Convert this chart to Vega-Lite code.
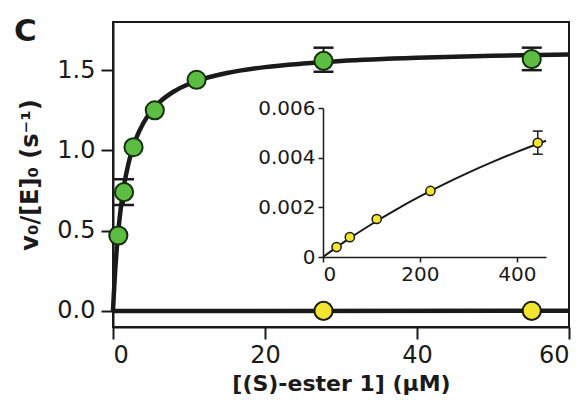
{
  "$schema": "https://vega.github.io/schema/vega-lite/v6.json",
  "width": 456,
  "height": 305,
  "autosize": "none",
  "padding": {"left": 113, "top": 22, "right": 18, "bottom": 80},
  "background": "white",
  "config": {
    "view": {"stroke": "#1a1a1a", "strokeWidth": 2},
    "font": "DejaVu Sans",
    "axis": {"grid": false, "domainColor": "#1a1a1a", "tickColor": "#1a1a1a", "labelColor": "#1a1a1a", "titleColor": "#1a1a1a", "labelFont": "DejaVu Sans", "titleFont": "DejaVu Sans"}
  },
  "title": {"text": "C", "anchor": "start", "frame": "group", "font": "DejaVu Sans", "fontSize": 31, "fontWeight": "bold", "color": "#1a1a1a", "dx": -99, "dy": 32, "offset": -18, "baseline": "alphabetic"},
  "datasets": {
    "curveG": [
      {"s": 0, "v": 0}, {"s": 0.1, "v": 0.096}, {"s": 0.25, "v": 0.222}, {"s": 0.5, "v": 0.39}, {"s": 0.75, "v": 0.523},
      {"s": 1, "v": 0.631}, {"s": 1.5, "v": 0.794}, {"s": 2, "v": 0.911}, {"s": 2.5, "v": 1.0}, {"s": 3, "v": 1.07},
      {"s": 4, "v": 1.171}, {"s": 5, "v": 1.242}, {"s": 6, "v": 1.295}, {"s": 8, "v": 1.367}, {"s": 10, "v": 1.414},
      {"s": 12, "v": 1.447}, {"s": 15, "v": 1.482}, {"s": 20, "v": 1.519}, {"s": 25, "v": 1.541}, {"s": 30, "v": 1.557},
      {"s": 40, "v": 1.577}, {"s": 50, "v": 1.589}, {"s": 60, "v": 1.597}
    ],
    "ptsG": [
      {"s": 0.7, "v": 0.47},
      {"s": 1.45, "v": 0.74, "lo": 0.66, "hi": 0.82},
      {"s": 2.7, "v": 1.02},
      {"s": 5.5, "v": 1.25},
      {"s": 11, "v": 1.44},
      {"s": 27.7, "v": 1.558, "lo": 1.49, "hi": 1.64},
      {"s": 55.1, "v": 1.569, "lo": 1.5, "hi": 1.64}
    ],
    "lineY": [{"s": 0, "v": 0}, {"s": 60, "v": 0.0008}],
    "ptsY": [{"s": 27.7, "v": 0.0004}, {"s": 55.1, "v": 0.0008}],
    "curveI": [
      {"s": 0, "v": 0}, {"s": 50, "v": 0.000688}, {"s": 100, "v": 0.001319}, {"s": 150, "v": 0.0019},
      {"s": 200, "v": 0.002437}, {"s": 250, "v": 0.002935}, {"s": 300, "v": 0.003398}, {"s": 350, "v": 0.003829},
      {"s": 400, "v": 0.004232}, {"s": 460, "v": 0.004682}
    ],
    "ptsI": [
      {"s": 28, "v": 0.0004},
      {"s": 55.4, "v": 0.0008},
      {"s": 110.8, "v": 0.00153},
      {"s": 221.6, "v": 0.00266},
      {"s": 443, "v": 0.0046, "lo": 0.00414, "hi": 0.00507}
    ]
  },
  "layer": [
    {
      "encoding": {
        "x": {"field": "s", "type": "quantitative", "scale": {"domain": [0, 60], "nice": false, "zero": false},
          "axis": {"values": [0, 20, 40, 60], "title": "[(S)-ester 1] (μM)", "labelFontSize": 24, "titleFontSize": 22, "titleFontWeight": "bold", "tickSize": 12, "tickWidth": 2, "domainWidth": 2, "labelPadding": 4, "titlePadding": 6}},
        "y": {"field": "v", "type": "quantitative", "scale": {"domain": [-0.1, 1.8], "nice": false, "zero": false},
          "axis": {"values": [0, 0.5, 1, 1.5], "format": ".1f", "title": "v₀/[E]₀ (s⁻¹)", "labelFontSize": 24, "titleFontSize": 24, "titleFontWeight": "bold", "tickSize": 12, "tickWidth": 2, "domainWidth": 2, "labelPadding": 6, "titlePadding": 14}}
      },
      "layer": [
        {"data": {"name": "curveG"}, "mark": {"type": "line", "color": "#1a1a1a", "strokeWidth": 4.5, "interpolate": "monotone"}},
        {"data": {"name": "lineY"}, "mark": {"type": "line", "color": "#1a1a1a", "strokeWidth": 4.5}},
        {"data": {"name": "ptsG"}, "transform": [{"filter": "isValid(datum.lo)"}], "mark": {"type": "rule", "color": "#1a1a1a", "strokeWidth": 2}, "encoding": {"y": {"field": "lo", "type": "quantitative"}, "y2": {"field": "hi"}}},
        {"data": {"name": "ptsG"}, "transform": [{"filter": "isValid(datum.lo)"}], "mark": {"type": "tick", "orient": "horizontal", "color": "#1a1a1a", "opacity": 1, "size": 20, "thickness": 2.5}, "encoding": {"y": {"field": "lo", "type": "quantitative"}}},
        {"data": {"name": "ptsG"}, "transform": [{"filter": "isValid(datum.hi)"}], "mark": {"type": "tick", "orient": "horizontal", "color": "#1a1a1a", "opacity": 1, "size": 20, "thickness": 2.5}, "encoding": {"y": {"field": "hi", "type": "quantitative"}}},
        {"data": {"name": "ptsG"}, "mark": {"type": "point", "filled": true, "fill": "#5cbd42", "stroke": "#15300c", "strokeWidth": 2, "size": 330, "opacity": 1}},
        {"data": {"name": "ptsY"}, "mark": {"type": "point", "filled": true, "fill": "#f2e530", "stroke": "#1a1a0a", "strokeWidth": 2, "size": 330, "opacity": 1}}
      ]
    },
    {
      "encoding": {
        "x": {"field": "s", "type": "quantitative", "scale": {"domain": [0, 460], "range": [210, 433], "nice": false, "zero": false},
          "axis": {"orient": "bottom", "offset": -70, "values": [0, 200, 400], "title": null, "labelFontSize": 20, "tickSize": 5, "tickWidth": 1.5, "domainWidth": 1.5, "labelPadding": 2}},
        "y": {"field": "v", "type": "quantitative", "scale": {"domain": [0, 0.006], "range": [235, 86], "nice": false, "zero": false},
          "axis": {"orient": "left", "offset": -210, "values": [0, 0.002, 0.004, 0.006], "format": ".3~f", "title": null, "labelFontSize": 20, "tickSize": 5, "tickWidth": 1.5, "domainWidth": 1.5, "labelPadding": 3}}
      },
      "layer": [
        {"mark": {"type": "rect", "fill": "white", "stroke": "#1a1a1a", "strokeWidth": 1.5}, "encoding": {"x": {"datum": 0, "type": "quantitative"}, "x2": {"datum": 460}, "y": {"datum": 0, "type": "quantitative"}, "y2": {"datum": 0.006}}},
        {"data": {"name": "curveI"}, "mark": {"type": "line", "color": "#1a1a1a", "strokeWidth": 2, "interpolate": "monotone"}},
        {"data": {"name": "ptsI"}, "transform": [{"filter": "isValid(datum.lo)"}], "mark": {"type": "rule", "color": "#1a1a1a", "strokeWidth": 1.5}, "encoding": {"y": {"field": "lo", "type": "quantitative"}, "y2": {"field": "hi"}}},
        {"data": {"name": "ptsI"}, "transform": [{"filter": "isValid(datum.lo)"}], "mark": {"type": "tick", "orient": "horizontal", "color": "#1a1a1a", "opacity": 1, "size": 10, "thickness": 1.5}, "encoding": {"y": {"field": "lo", "type": "quantitative"}}},
        {"data": {"name": "ptsI"}, "transform": [{"filter": "isValid(datum.hi)"}], "mark": {"type": "tick", "orient": "horizontal", "color": "#1a1a1a", "opacity": 1, "size": 10, "thickness": 1.5}, "encoding": {"y": {"field": "hi", "type": "quantitative"}}},
        {"data": {"name": "ptsI"}, "mark": {"type": "point", "filled": true, "fill": "#f2e530", "stroke": "#1a1a0a", "strokeWidth": 1.5, "size": 85, "opacity": 1}}
      ]
    }
  ],
  "resolve": {"scale": {"x": "independent", "y": "independent"}, "axis": {"x": "independent", "y": "independent"}}
}
